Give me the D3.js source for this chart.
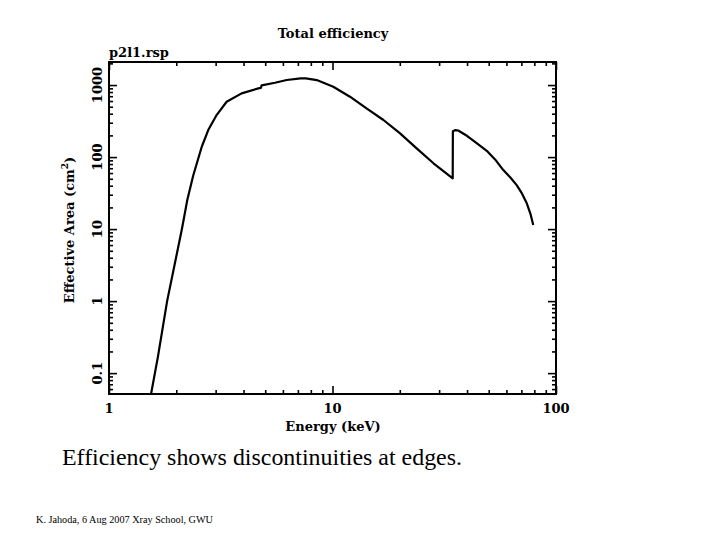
<!DOCTYPE html>
<html><head><meta charset="utf-8">
<script src="https://cdn.jsdelivr.net/npm/d3@7/dist/d3.min.js"></script>
<style>body{margin:0;background:#fff}svg{display:block}</style>
</head><body>
<svg id="c" width="720" height="540"></svg>
<script>
const energy = [1.54, 1.655, 1.82, 2.115, 2.17, 2.24, 2.38, 2.60, 2.78, 3.03, 3.36, 3.92, 4.66, 4.78, 4.82, 5.53, 6.24, 7.2, 7.6, 8.5, 10.08, 11.97, 14.2, 16.9, 20.0, 23.8, 28.3, 34.5, 34.56, 35.5, 36.5, 40.1, 44.0, 49.0, 53.5, 58.1, 62.5, 66.7, 70.5, 74.0, 77.0, 79.1];
const area   = [0.05, 0.168, 1.0, 9.7, 14.8, 25.3, 55, 139, 237, 383, 586, 767, 899, 915, 990, 1077, 1175, 1240, 1238, 1172, 949, 689, 475, 327, 215, 132, 82, 50.6, 228, 237, 234, 196, 157, 122, 92, 66, 52, 40.8, 31, 22.8, 16, 11.4];
const xMajor = [1, 10, 100];
const xMajorLabels = ["1", "10", "100"];
const yMajor = [0.1, 1, 10, 100, 1000];
const yMajorLabels = ["0.1", "1", "10", "100", "1000"];
const titleText = "Total efficiency";
const fileText = "p2l1.rsp";
const xTitle = "Energy (keV)";
const caption = "Efficiency shows discontinuities at edges.";
const footer = "K. Jahoda, 6 Aug 2007 Xray School, GWU";

const svg = d3.select("#c");
const L = 109, R = 556, T = 62, B = 394;
const x = d3.scaleLog().domain([1, 100]).range([L, R]);
const y = d3.scaleLog().domain([0.0513, 2090]).range([B, T]);

const xMinor = [];
[1, 10].forEach(d => { for (let k = 2; k <= 9; k++) xMinor.push(d * k); });
const yMinor = [];
[0.01, 0.1, 1, 10, 100, 1000].forEach(d => { for (let k = 2; k <= 9; k++) { const v = d * k; if (v >= y.domain()[0] && v <= y.domain()[1]) yMinor.push(v); } });

const font = "'DejaVu Serif', serif";
const g = svg.append("g");

svg.append("defs").append("clipPath").attr("id", "clip").append("rect")
  .attr("x", L).attr("y", T).attr("width", R - L).attr("height", B - T);

function axisDraw(axisGen, transform) {
  const a = g.append("g").attr("transform", transform).call(axisGen);
  a.select(".domain").remove();
  a.selectAll("line").attr("stroke", "#000").attr("stroke-width", 1.6);
  a.selectAll("text").remove();
}
const maj = 8, mnr = 4;
axisDraw(d3.axisBottom(x).tickValues(xMajor).tickSize(-maj), `translate(0,${B})`);
axisDraw(d3.axisBottom(x).tickValues(xMinor).tickSize(-mnr), `translate(0,${B})`);
axisDraw(d3.axisTop(x).tickValues(xMajor).tickSize(-maj), `translate(0,${T})`);
axisDraw(d3.axisTop(x).tickValues(xMinor).tickSize(-mnr), `translate(0,${T})`);
axisDraw(d3.axisLeft(y).tickValues(yMajor).tickSize(-maj), `translate(${L},0)`);
axisDraw(d3.axisLeft(y).tickValues(yMinor).tickSize(-mnr), `translate(${L},0)`);
axisDraw(d3.axisRight(y).tickValues(yMajor).tickSize(-maj), `translate(${R},0)`);
axisDraw(d3.axisRight(y).tickValues(yMinor).tickSize(-mnr), `translate(${R},0)`);

g.append("rect").attr("x", L).attr("y", T).attr("width", R - L).attr("height", B - T)
  .attr("fill", "none").attr("stroke", "#000").attr("stroke-width", 2);

const pts = energy.map((e, i) => [e, area[i]]);
g.append("path").datum(pts)
  .attr("clip-path", "url(#clip)")
  .attr("fill", "none").attr("stroke", "#000").attr("stroke-width", 2.2)
  .attr("stroke-linejoin", "round")
  .attr("d", d3.line().x(d => x(d[0])).y(d => y(d[1])));

g.selectAll(".xl").data(xMajor).join("text")
  .attr("x", d => x(d)).attr("y", 413)
  .attr("text-anchor", "middle").attr("font-family", font).attr("font-weight", "bold")
  .attr("font-size", 13).text((d, i) => xMajorLabels[i]);

g.selectAll(".yl").data(yMajor).join("text")
  .attr("transform", d => `translate(102,${y(d)}) rotate(-90)`)
  .attr("text-anchor", "middle").attr("font-family", font).attr("font-weight", "bold")
  .attr("font-size", 13).text((d, i) => yMajorLabels[i]);

g.append("text").attr("x", 333).attr("y", 431).attr("text-anchor", "middle")
  .attr("font-family", font).attr("font-weight", "bold").attr("font-size", 13).text(xTitle);

const yt = g.append("text").attr("transform", `translate(74,230) rotate(-90)`)
  .attr("text-anchor", "middle").attr("font-family", font).attr("font-weight", "bold").attr("font-size", 13);
yt.append("tspan").text("Effective Area (cm");
yt.append("tspan").attr("font-size", 9).attr("dy", -6).text("2");
yt.append("tspan").attr("dy", 6).text(")");

g.append("text").attr("x", 333).attr("y", 38).attr("text-anchor", "middle")
  .attr("font-family", font).attr("font-weight", "bold").attr("font-size", 13).text(titleText);
g.append("text").attr("x", 109).attr("y", 57)
  .attr("font-family", font).attr("font-weight", "bold").attr("font-size", 13).text(fileText);

g.append("text").attr("x", 62).attr("y", 465).attr("font-family", "'Liberation Serif', serif")
  .attr("font-size", 24).attr("textLength", 400).attr("lengthAdjust", "spacingAndGlyphs").text(caption);
g.append("text").attr("x", 36).attr("y", 523).attr("font-family", "'Liberation Serif', serif")
  .attr("font-size", 10).attr("textLength", 177).attr("lengthAdjust", "spacingAndGlyphs").text(footer);
</script>
</body></html>
